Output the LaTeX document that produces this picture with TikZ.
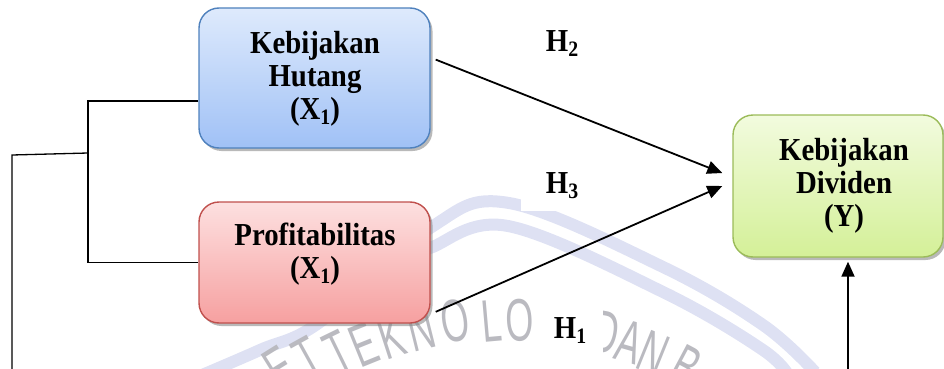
\documentclass[tikz,border=0pt]{standalone}
\usepackage{fontspec}
\setmainfont[FakeStretch=0.9]{Liberation Serif}
\newfontfamily\wmfont[FakeStretch=0.6]{Liberation Sans}
\usepackage{pdfrender}
\usetikzlibrary{arrows.meta,shadows}

\definecolor{hutangtop}{RGB}{222,234,252}
\definecolor{hutangbot}{RGB}{160,193,246}
\definecolor{hutangline}{RGB}{79,129,189}
\definecolor{profittop}{RGB}{253,224,224}
\definecolor{profitbot}{RGB}{246,160,160}
\definecolor{profitline}{RGB}{192,80,77}
\definecolor{divtop}{RGB}{242,251,222}
\definecolor{divbot}{RGB}{212,240,152}
\definecolor{divline}{RGB}{155,187,89}
\definecolor{wmband}{RGB}{222,225,243}
\definecolor{wmtext}{RGB}{186,186,192}

% lowered subscript in the current (bold) face
\newcommand\lsub[1]{\raisebox{-5pt}{\fontsize{22}{22}\selectfont #1}}

\begin{document}
\begin{tikzpicture}[x=1pt,y=-1pt,
  varbox/.style={draw, line width=1.4pt, rounded corners=20pt,
    drop shadow={shadow xshift=2.5pt, shadow yshift=-3pt, fill=black!50, opacity=.55}},
  boxtext/.style={align=center, font=\fontsize{32}{33}\selectfont\bfseries, inner sep=0pt},
  hyp/.style={fill=white, font=\fontsize{32}{33}\selectfont\bfseries, anchor=base, inner sep=0pt},
  link/.style={line width=1.3pt},
  arr/.style={line width=1.8pt, -{Triangle[length=15pt,width=13pt]}},
  band/.style={wmband, line width=12pt},
  wmletter/.style={text=wmtext, font=\wmfont\fontsize{60}{60}\selectfont, inner sep=0pt}
]
\useasboundingbox (0,0) rectangle (944,369);

% faint background emblem: two arched bands and lettering
\draw[band] plot[smooth, tension=0.6] coordinates
  {(195,378) (260,350) (320,322) (430,228) (509,203) (663,267) (763,325) (815,372)};
\draw[band] plot[smooth, tension=0.6] coordinates
  {(400,262) (430,248) (508,226) (663,292) (763,350) (790,378)};
\foreach \ch/\px/\py/\rt [count=\i] in {E/280/368/32, T/308/358/29, T/338/352/26,
    E/364/345/22, K/392/337/18, N/421/329/14, O/455/321/9, L/492/321/5, O/520/320/2,
    D/606/332/-10, A/630/342/-16, N/653/353/-22, B/686/367/-28}
  \node[wmletter, rotate=\rt] (wm\i) at (\px,\py)
    {\textpdfrender{TextRenderingMode=1,LineWidth=1}{\ch}};

% variable boxes
\node[varbox, draw=hutangline, top color=hutangtop, bottom color=hutangbot,
  minimum width=231pt, minimum height=140pt] (hutang) at (314.5,78) {};
\node[varbox, draw=profitline, top color=profittop, bottom color=profitbot,
  minimum width=231pt, minimum height=121pt] (profit) at (314.5,262.5) {};
\node[varbox, draw=divline, top color=divtop, bottom color=divbot,
  minimum width=210pt, minimum height=142pt] (dividen) at (838,186) {};

\node[boxtext] (hutangtxt) at (315,78.5) {Kebijakan\\Hutang\\(X\lsub{1})};
\node[boxtext] (profittxt) at (315,254) {Profitabilitas\\(X\lsub{1})};
\node[boxtext] (dividentxt) at (844,185.5) {Kebijakan\\Dividen\\(Y)};

% hypothesis labels
\node[hyp] (h2) at (562,52) {H\lsub{2}};
\node[hyp, minimum width=82pt, minimum height=52pt] (h3) at (562,193) {H\lsub{3}};
\node[hyp, minimum width=66pt, minimum height=56pt] (h1) at (570,338) {H\lsub{1}\hspace{9pt}};

% bracket joining the two independent variables
\coordinate (join) at (88,153);
\coordinate (turn) at (12,155);
\coordinate (leftend) at (12,372);
\draw[link] ([yshift=-23pt]hutang.west) -| (join) |- (profit.west);
\draw[link] (join) -- (turn) -- (leftend);

% effects on dividend policy
\draw[arr] ([xshift=5pt]hutang.9) -- ([xshift=-10pt]dividen.173);
\draw[arr] ([xshift=5pt]profit.-23) -- ([xshift=-10pt]dividen.180);
\coordinate (ybot) at (848,372);
\draw[arr, shorten >=4pt] (ybot) -- (ybot |- dividen.south);
\end{tikzpicture}
\end{document}
